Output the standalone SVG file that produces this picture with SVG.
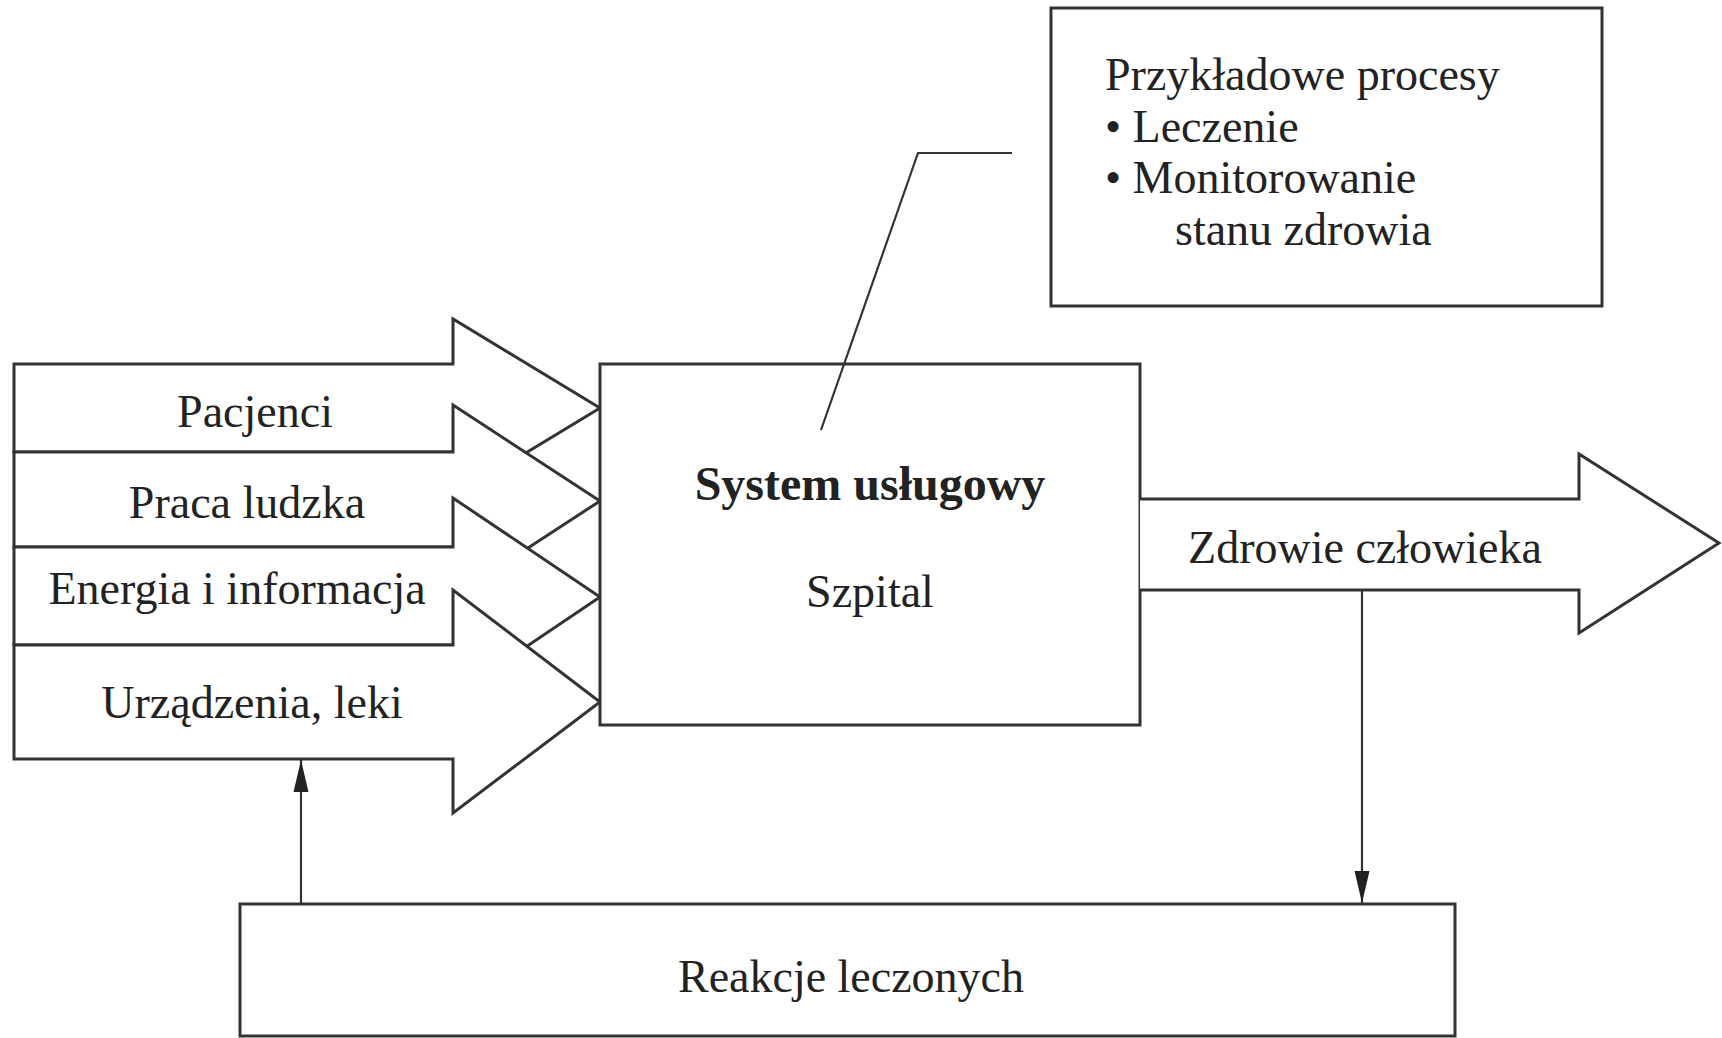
<svg xmlns="http://www.w3.org/2000/svg" width="1722" height="1038" viewBox="0 0 1722 1038">
  <style>
    .shape { fill: #ffffff; stroke: #333333; stroke-width: 3; stroke-linejoin: miter; }
    .thin { fill: none; stroke: #333333; stroke-width: 2.2; }
    .lbl { font-family: "Liberation Serif", "Times New Roman", serif; font-size: 46px; fill: #222222; }
    .mid { text-anchor: middle; }
    .bold { font-weight: bold; font-size: 48px; }
  </style>
  <defs>
    <marker id="head" markerUnits="userSpaceOnUse" markerWidth="34" markerHeight="18" refX="32" refY="8" orient="auto">
      <path d="M0,0.5 L32,8 L0,15.5 Z" fill="#222222"/>
    </marker>
  </defs>
  <rect width="1722" height="1038" fill="#ffffff"/>

  <!-- input flows, drawn top to bottom so each head overlaps the one above -->
  <g id="in-pacjenci">
    <polygon class="shape" points="14,364 453,364 453,319 600,408 453,497 453,452 14,452"/>
    <text class="lbl mid" x="255" y="427">Pacjenci</text>
  </g>
  <g id="in-praca">
    <polygon class="shape" points="14,452 453,452 453,405 600,501 453,597 453,547 14,547"/>
    <text class="lbl mid" x="247" y="518">Praca ludzka</text>
  </g>
  <g id="in-energia">
    <polygon class="shape" points="14,547 453,547 453,498 600,597 453,696 453,645 14,645"/>
    <text class="lbl mid" x="237" y="604">Energia i informacja</text>
  </g>
  <g id="in-urzadzenia">
    <polygon class="shape" points="14,645 453,645 453,590 600,702 453,813 453,759 14,759"/>
    <text class="lbl mid" x="252" y="718">Urządzenia, leki</text>
  </g>

  <!-- central system -->
  <g id="system">
    <rect class="shape" x="600" y="364" width="540" height="361"/>
    <text class="lbl mid bold" x="870" y="500">System usługowy</text>
    <text class="lbl mid" x="870" y="607">Szpital</text>
  </g>

  <!-- output flow -->
  <g id="out-zdrowie">
    <path class="shape" d="M1140,499 H1579 V454 L1719,543 L1579,633 V590 H1140"/>
    <text class="lbl mid" x="1365" y="563">Zdrowie człowieka</text>
  </g>

  <!-- example processes -->
  <g id="procesy">
    <rect class="shape" x="1051" y="8" width="551" height="298"/>
    <text class="lbl" x="1105" y="90">Przykładowe procesy</text>
    <text class="lbl" x="1105" y="142">• Leczenie</text>
    <text class="lbl" x="1105" y="193">• Monitorowanie</text>
    <text class="lbl" x="1175" y="245">stanu zdrowia</text>
  </g>

  <!-- feedback -->
  <g id="reakcje">
    <rect class="shape" x="240" y="904" width="1215" height="132"/>
    <text class="lbl mid" x="851" y="992">Reakcje leczonych</text>
  </g>

  <g id="connectors">
    <polyline class="thin" points="821,430 918,153 1012,153"/>
    <line class="thin" x1="1362" y1="590" x2="1362" y2="903" marker-end="url(#head)"/>
    <line class="thin" x1="301" y1="904" x2="301" y2="760" marker-end="url(#head)"/>
  </g>
</svg>
